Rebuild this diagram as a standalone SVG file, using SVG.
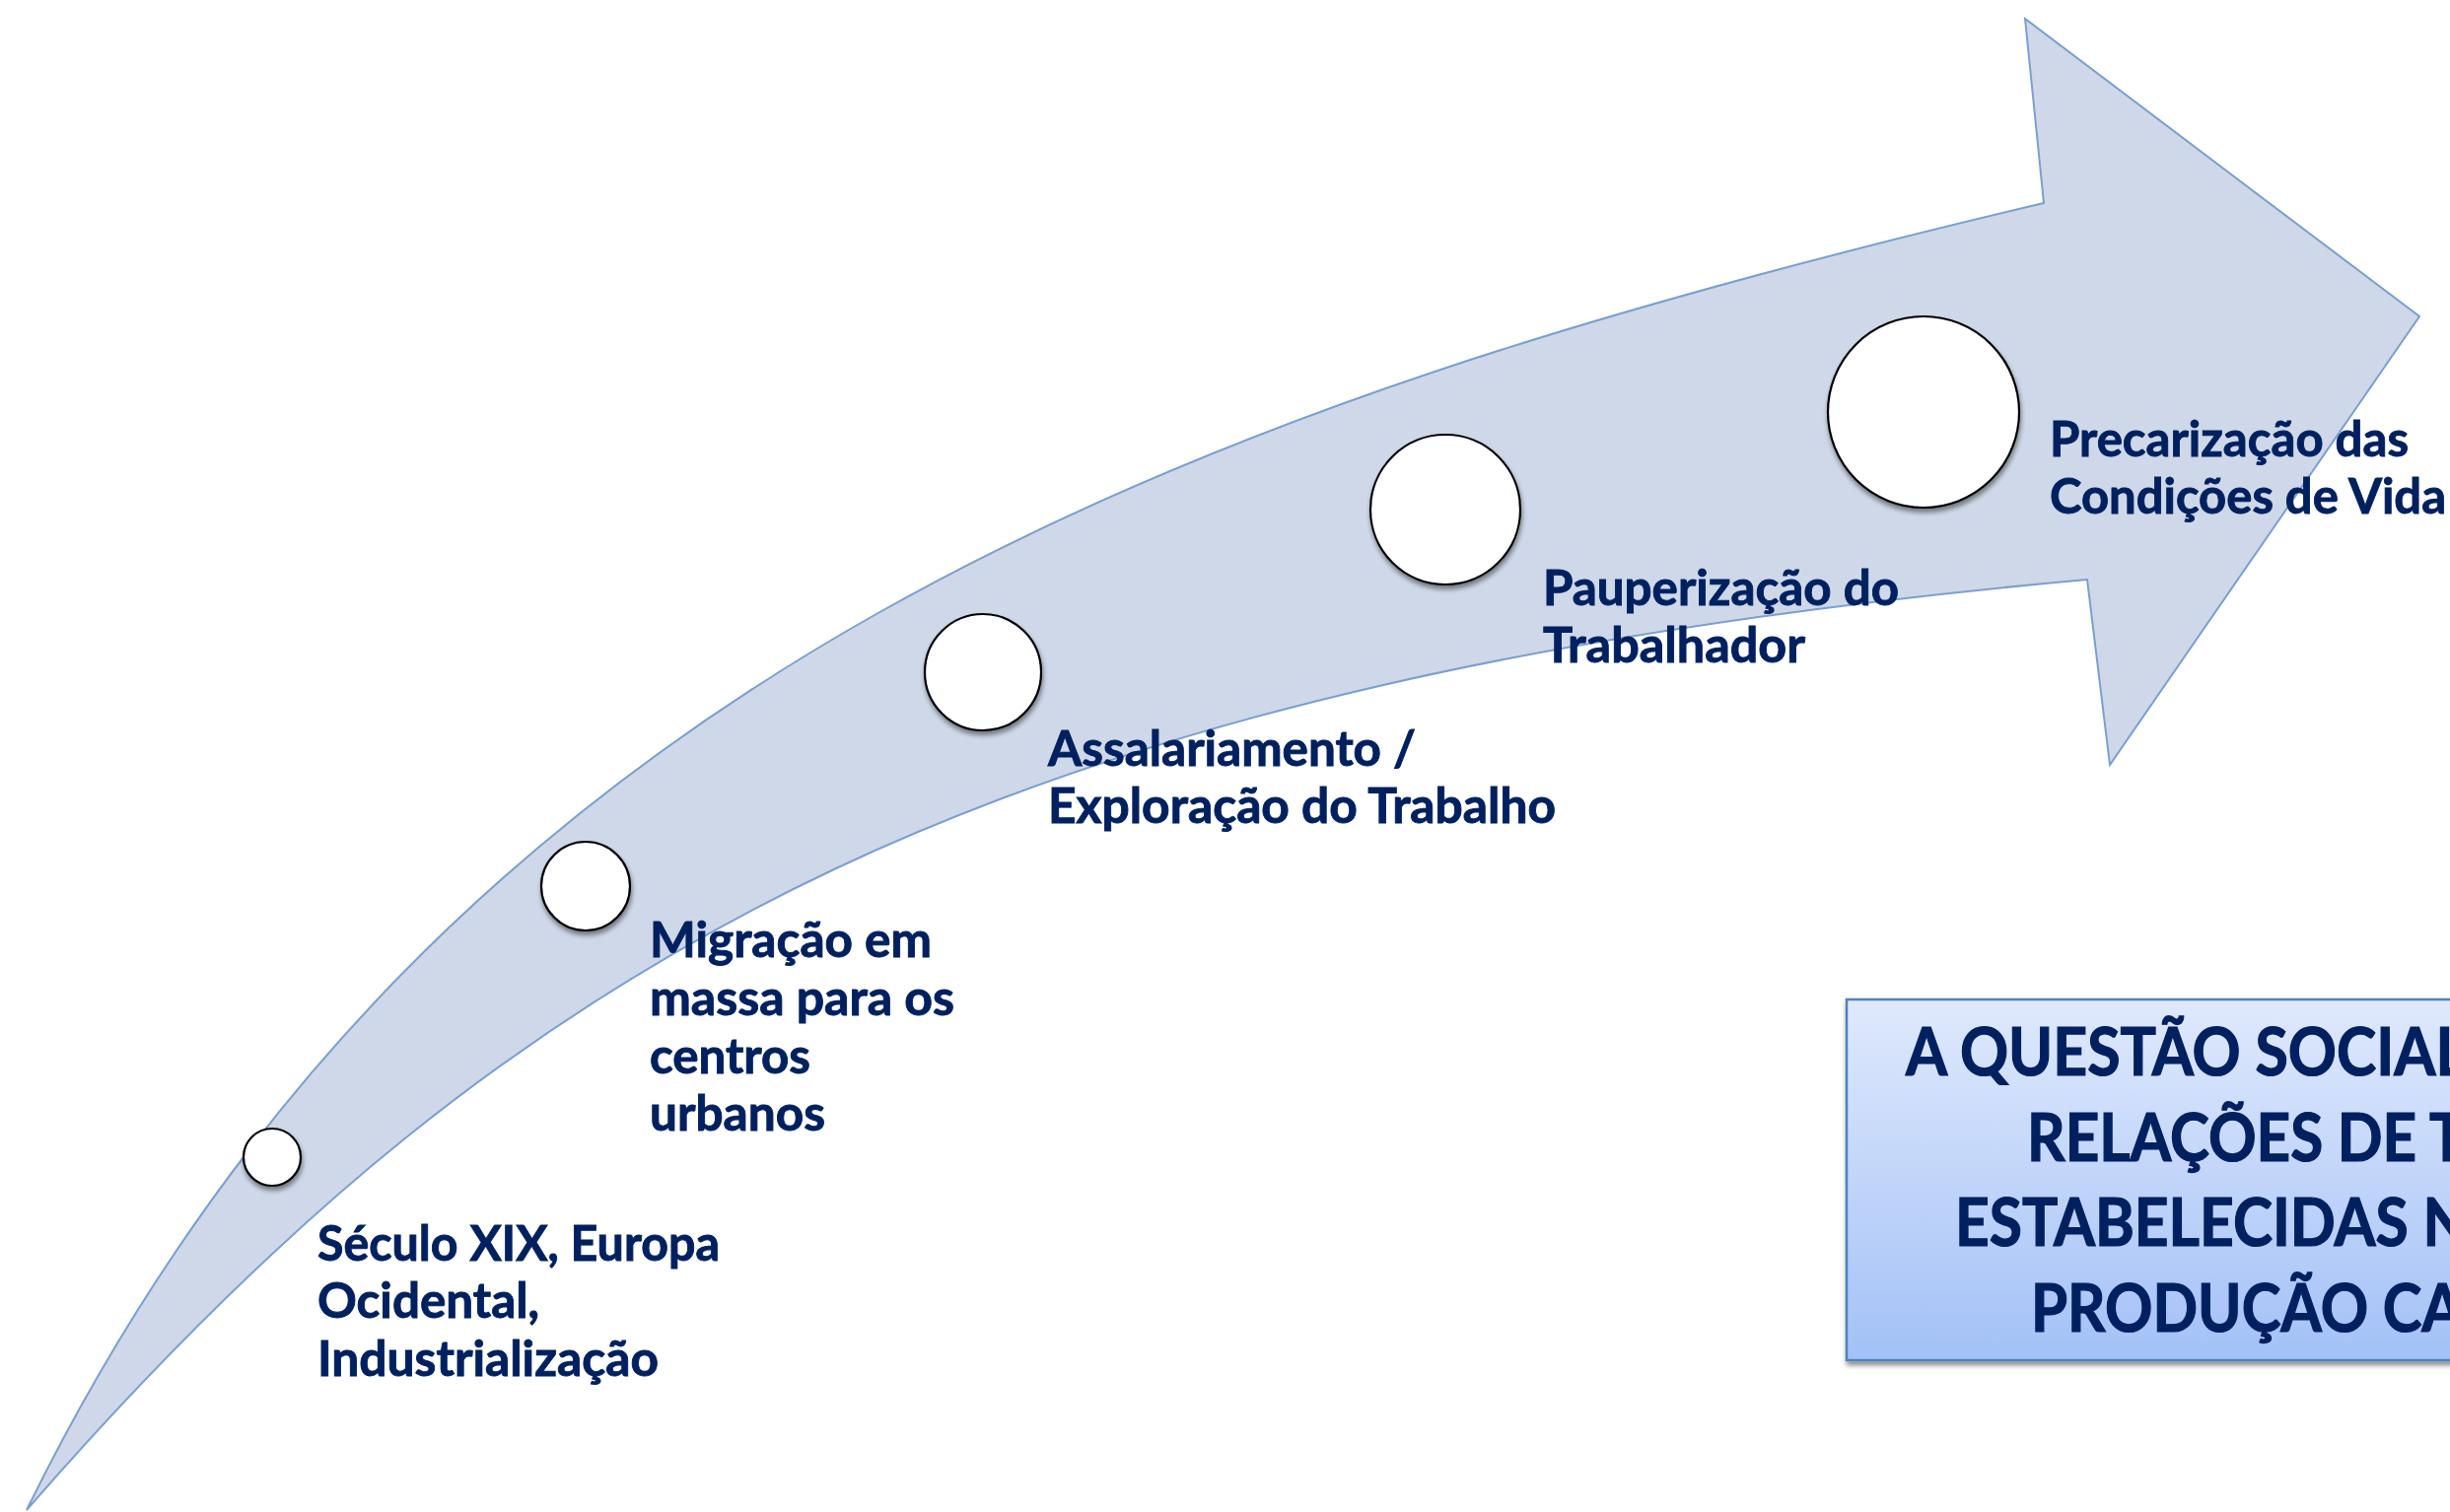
<svg xmlns="http://www.w3.org/2000/svg" width="2485" height="1534" viewBox="0 0 2485 1534">
  <defs>
    <linearGradient id="boxGrad" x1="0" y1="0" x2="0" y2="1">
      <stop offset="0" stop-color="#dfe9fc"/>
      <stop offset="1" stop-color="#a3c1f7"/>
    </linearGradient>
    <filter id="shadow" x="-20%" y="-20%" width="140%" height="150%">
      <feGaussianBlur in="SourceAlpha" stdDeviation="2.5"/>
      <feOffset dx="1" dy="4" result="b"/>
      <feComponentTransfer><feFuncA type="linear" slope="0.45"/></feComponentTransfer>
      <feMerge><feMergeNode/><feMergeNode in="SourceGraphic"/></feMerge>
    </filter>
    <style>
      .arrow { fill: #ced8e8; stroke: #7a9fd1; stroke-width: 2; }
      .dot { fill: #ffffff; stroke: #000000; stroke-width: 2.2; filter: url(#shadow); }
      .lbl { font-family: "Lato", "Open Sans", "Liberation Sans", sans-serif; font-weight: bold; font-size: 50px; fill: #002060; stroke: #002060; stroke-width: 0.9; }
      .box { fill: url(#boxGrad); stroke: #4f81bd; stroke-width: 2.5; filter: url(#shadow); }
      .boxtxt { font-family: "Lato", "Open Sans", "Liberation Sans", sans-serif; font-weight: bold; font-size: 66px; fill: #002060; stroke: #002060; stroke-width: 1.2; }
    </style>
  </defs>
  <rect x="0" y="0" width="2485" height="1534" fill="#ffffff"/>

  <g id="arrow">
    <path class="arrow" d="M27,1532 C447,675 1223,407 2073,206 L2054,19 L2454,321 L2140,776 L2117,588 C1017,687 527,957 27,1532 Z"/>
  </g>

  <g id="connectors"></g>

  <g id="node-seculo">
    <circle class="dot" cx="276" cy="1174" r="29"/>
    <text class="lbl" x="322" y="1279" textLength="408" lengthAdjust="spacingAndGlyphs">Século XIX, Europa</text>
    <text class="lbl" x="322" y="1337" textLength="225" lengthAdjust="spacingAndGlyphs">Ocidental,</text>
    <text class="lbl" x="322" y="1396" textLength="346" lengthAdjust="spacingAndGlyphs">Industrialização</text>
  </g>

  <g id="node-migracao">
    <circle class="dot" cx="594" cy="899" r="45"/>
    <text class="lbl" x="659" y="971" textLength="286" lengthAdjust="spacingAndGlyphs">Migração em</text>
    <text class="lbl" x="659" y="1030" textLength="309" lengthAdjust="spacingAndGlyphs">massa para os</text>
    <text class="lbl" x="659" y="1089" textLength="163" lengthAdjust="spacingAndGlyphs">centros</text>
    <text class="lbl" x="659" y="1147" textLength="178" lengthAdjust="spacingAndGlyphs">urbanos</text>
  </g>

  <g id="node-assalariamento">
    <circle class="dot" cx="997" cy="682" r="59"/>
    <text class="lbl" x="1063" y="777" textLength="373" lengthAdjust="spacingAndGlyphs">Assalariamento /</text>
    <text class="lbl" x="1063" y="835" textLength="515" lengthAdjust="spacingAndGlyphs">Exploração do Trabalho</text>
  </g>

  <g id="node-pauperizacao">
    <circle class="dot" cx="1466" cy="517" r="76"/>
    <text class="lbl" x="1565" y="614" textLength="361" lengthAdjust="spacingAndGlyphs">Pauperização do</text>
    <text class="lbl" x="1565" y="672" textLength="266" lengthAdjust="spacingAndGlyphs">Trabalhador</text>
  </g>

  <g id="node-precarizacao">
    <circle class="dot" cx="1951" cy="418" r="97"/>
    <text class="lbl" x="2079" y="463" textLength="364" lengthAdjust="spacingAndGlyphs">Precarização das</text>
    <text class="lbl" x="2079" y="521" textLength="402" lengthAdjust="spacingAndGlyphs">Condições de Vida</text>
  </g>

  <g id="node-questao">
    <rect class="box" x="1873" y="1014" width="700" height="366"/>
    <text class="boxtxt" x="1933" y="1091" textLength="569" lengthAdjust="spacingAndGlyphs">A QUESTÃO SOCIAL</text>
    <text class="boxtxt" x="2056" y="1178" textLength="444" lengthAdjust="spacingAndGlyphs">RELAÇÕES DE T</text>
    <text class="boxtxt" x="1983" y="1264" textLength="521" lengthAdjust="spacingAndGlyphs">ESTABELECIDAS N</text>
    <text class="boxtxt" x="2060" y="1351" textLength="438" lengthAdjust="spacingAndGlyphs">PRODUÇÃO CA</text>
  </g>
</svg>
